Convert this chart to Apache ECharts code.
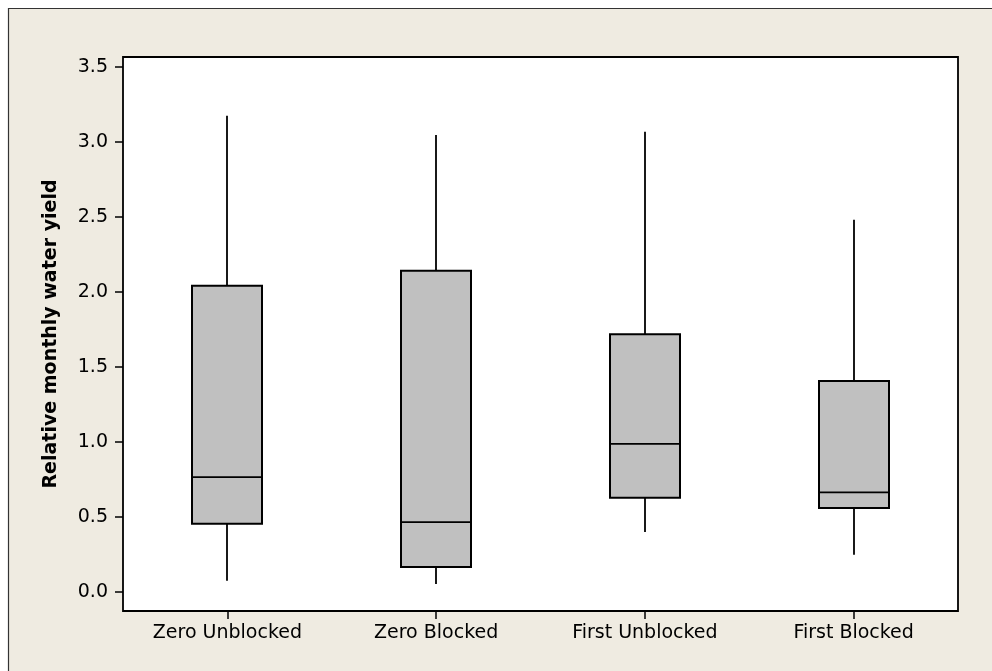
<!DOCTYPE html>
<html>
<head>
<meta charset="utf-8">
<script src="https://cdn.jsdelivr.net/npm/echarts@6/dist/echarts.min.js"></script>
<style>
  html, body { margin: 0; padding: 0; background: #fff; }
  #main { width: 992px; height: 671px; }
</style>
</head>
<body>
<div id="main"></div>
<script>
// groups on the x axis
var categories = ['Zero Unblocked', 'Zero Blocked', 'First Unblocked', 'First Blocked'];
// box statistics
var whiskerLow = [0.073, 0.051, 0.398, 0.246];
var q1 = [0.453, 0.165, 0.626, 0.558];
var median = [0.764, 0.464, 0.986, 0.662];
var q3 = [2.04, 2.14, 1.717, 1.404];
var whiskerHigh = [3.173, 3.045, 3.067, 2.48];
var yTicks = [0, 0.5, 1, 1.5, 2, 2.5, 3, 3.5];

var boxData = categories.map(function (c, i) {
  return [i, whiskerLow[i], q1[i], median[i], q3[i], whiskerHigh[i]];
});

var FONT = 'DejaVu Sans';
var chart = echarts.init(document.getElementById('main'));

function renderBox(params, api) {
  var x = api.value(0);
  var pLow = api.coord([x, api.value(1)]);
  var pQ1 = api.coord([x, api.value(2)]);
  var pMed = api.coord([x, api.value(3)]);
  var pQ3 = api.coord([x, api.value(4)]);
  var pHigh = api.coord([x, api.value(5)]);
  var half = 35;
  var cx = Math.round(pQ1[0]);
  var line = { stroke: '#000', lineWidth: 1.8 };
  return {
    type: 'group',
    children: [
      { type: 'line', shape: { x1: cx, y1: pQ3[1], x2: cx, y2: pHigh[1] }, style: line },
      { type: 'line', shape: { x1: cx, y1: pQ1[1], x2: cx, y2: pLow[1] }, style: line },
      {
        type: 'rect',
        shape: { x: cx - half, y: pQ3[1], width: half * 2, height: pQ1[1] - pQ3[1] },
        style: { fill: '#c0c0c0', stroke: '#000', lineWidth: 2 }
      },
      { type: 'line', shape: { x1: cx - half, y1: pMed[1], x2: cx + half, y2: pMed[1] }, style: line }
    ]
  };
}

var option = {
  animation: false,
  backgroundColor: '#fff',
  graphic: [{
    type: 'rect',
    z: -10,
    shape: { x: 8.5, y: 8.5, width: 1000, height: 700 },
    style: { fill: '#efebe1', stroke: '#333', lineWidth: 1.2 }
  }],
  grid: {
    left: 123, top: 57, right: 34, bottom: 60,
    show: true,
    backgroundColor: '#fff',
    borderColor: '#000',
    borderWidth: 1.8
  },
  xAxis: {
    type: 'category',
    data: categories,
    axisLine: { show: false, onZero: false },
    axisTick: { show: true, alignWithLabel: true, length: 8, lineStyle: { color: '#000', width: 1.5 } },
    axisLabel: { color: '#000', fontFamily: FONT, fontSize: 19, margin: 13 },
    splitLine: { show: false }
  },
  yAxis: {
    type: 'value',
    min: -0.129,
    max: 3.565,
    name: 'Relative monthly water yield',
    nameLocation: 'middle',
    nameGap: 62,
    nameTextStyle: { color: '#000', fontFamily: FONT, fontSize: 19, fontWeight: 'bold' },
    axisLine: { show: false },
    axisTick: { show: true, length: 8, customValues: yTicks, lineStyle: { color: '#000', width: 1.5 } },
    axisLabel: {
      color: '#000', fontFamily: FONT, fontSize: 19, margin: 15,
      customValues: yTicks,
      formatter: function (v) { return v.toFixed(1); }
    },
    splitLine: { show: false }
  },
  series: [{
    type: 'custom',
    renderItem: renderBox,
    encode: { x: 0, y: [1, 2, 3, 4, 5] },
    data: boxData
  }]
};

chart.setOption(option);
</script>
</body>
</html>
